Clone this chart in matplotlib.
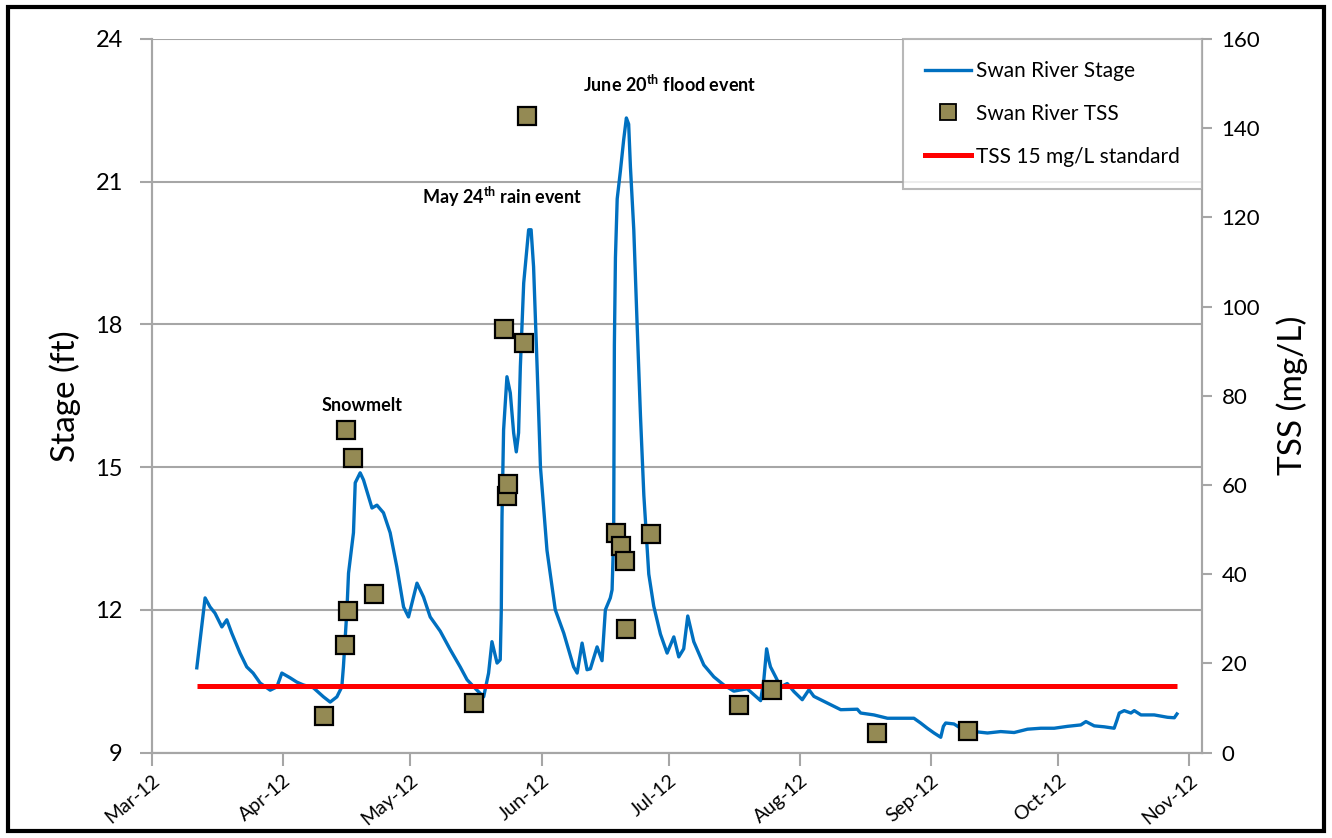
import matplotlib
matplotlib.use("Agg")
import matplotlib.pyplot as plt
import matplotlib.dates as mdates
from matplotlib.patches import Rectangle
from matplotlib.lines import Line2D
import pandas as pd

plt.rcParams['font.family'] = ['Lato', 'DejaVu Sans']
plt.rcParams['mathtext.fontset'] = 'custom'
plt.rcParams['mathtext.rm'] = 'Lato'
plt.rcParams['mathtext.bf'] = 'Lato:bold'

# Swan River stage (ft)
stage_dates = [
    "03-11 14:00", "03-13 13:00", "03-14 17:00", "03-15 21:00", "03-17 12:00", "03-18 16:00",
    "03-19 20:00", "03-21 19:00", "03-23 09:00", "03-24 21:00", "03-26 13:00", "03-28 22:00",
    "03-30 12:00", "03-31 16:00", "04-02 15:00", "04-04 05:00", "04-05 18:00", "04-08 03:00",
    "04-10 12:00", "04-12 02:00", "04-13 16:00", "04-14 20:00", "04-15 05:00", "04-16 01:00",
    "04-16 10:00", "04-17 14:00", "04-18 00:00", "04-19 04:00", "04-19 23:00", "04-21 23:00",
    "04-23 03:00", "04-24 16:00", "04-26 06:00", "04-27 20:00", "04-29 10:00", "04-30 14:00",
    "05-02 14:00", "05-04 03:00", "05-05 17:00", "05-08 02:00", "05-10 11:00", "05-12 19:00",
    "05-14 10:00", "05-15 04:00", "05-16 18:00", "05-18 08:00", "05-19 12:00", "05-20 07:00",
    "05-21 12:00", "05-22 06:00", "05-22 12:00", "05-22 16:00", "05-23 01:00", "05-23 20:00",
    "05-24 15:00", "05-25 10:00", "05-26 01:00", "05-26 14:00", "05-27 00:00", "05-27 19:00",
    "05-28 23:00", "05-29 13:00", "05-30 03:00", "05-30 23:00", "05-31 18:00", "06-02 07:00",
    "06-04 06:00", "06-06 06:00", "06-08 14:00", "06-09 10:00", "06-10 14:00", "06-11 18:00",
    "06-12 13:00", "06-14 03:00", "06-15 07:00", "06-16 02:00", "06-17 06:00", "06-17 16:00",
    "06-18 01:00", "06-18 05:00", "06-18 11:00", "06-18 21:00", "06-19 15:00", "06-20 10:00",
    "06-21 01:00", "06-21 14:00", "06-22 00:00", "06-22 19:00", "06-23 14:00", "06-24 09:00",
    "06-25 04:00", "06-26 08:00", "06-27 12:00", "06-29 02:00", "06-30 16:00", "07-02 06:00",
    "07-03 10:00", "07-04 14:00", "07-05 13:00", "07-06 23:00", "07-09 08:00", "07-11 17:00",
    "07-14 01:00", "07-16 10:00", "07-19 14:00", "07-22 18:00", "07-23 12:00", "07-24 04:00",
    "07-24 17:00", "07-25 02:00", "07-26 07:00", "07-27 11:00", "07-29 01:00", "07-30 15:00",
    "08-01 14:00", "08-03 04:00", "08-04 08:00", "08-07 12:00", "08-10 16:00", "08-14 14:00",
    "08-15 09:00", "08-18 12:00", "08-21 17:00", "08-24 20:00", "08-27 23:00", "08-29 13:00",
    "08-31 03:00", "09-01 17:00", "09-03 07:00", "09-03 22:00", "09-04 11:00", "09-06 10:00",
    "09-08 00:00", "09-11 04:00", "09-14 08:00", "09-17 11:00", "09-20 15:00", "09-23 19:00",
    "09-26 22:00", "09-30 02:00", "10-03 06:00", "10-06 09:00", "10-07 14:00", "10-09 13:00",
    "10-11 22:00", "10-14 06:00", "10-14 22:00", "10-15 11:00", "10-16 15:00", "10-18 05:00",
    "10-19 00:00", "10-20 14:00", "10-23 17:00", "10-26 21:00", "10-28 11:00", "10-29 02:00",
]
stage_ft = [
    10.78, 12.25, 12.06, 11.93, 11.64, 11.79,
    11.51, 11.09, 10.80, 10.67, 10.46, 10.31,
    10.38, 10.67, 10.57, 10.48, 10.42, 10.36,
    10.17, 10.06, 10.17, 10.38, 10.80, 12.00,
    12.77, 13.62, 14.67, 14.88, 14.73, 14.14,
    14.20, 14.04, 13.62, 12.90, 12.06, 11.85,
    12.56, 12.27, 11.85, 11.55, 11.16, 10.80,
    10.53, 10.46, 10.31, 10.17, 10.67, 11.33,
    10.88, 10.95, 12.00, 13.95, 15.78, 16.90,
    16.56, 15.72, 15.32, 15.72, 17.11, 18.87,
    19.99, 19.99, 19.21, 17.11, 15.00, 13.25,
    12.00, 11.51, 10.80, 10.67, 11.30, 10.74,
    10.76, 11.22, 10.93, 12.00, 12.25, 12.42,
    13.57, 17.57, 19.40, 20.64, 21.22, 21.89,
    22.34, 22.21, 21.31, 19.99, 17.99, 16.07,
    14.41, 12.75, 12.08, 11.49, 11.09, 11.43,
    11.01, 11.18, 11.87, 11.33, 10.84, 10.59,
    10.42, 10.29, 10.34, 10.09, 10.52, 11.18,
    10.93, 10.80, 10.59, 10.38, 10.45, 10.28,
    10.11, 10.32, 10.18, 10.04, 9.90, 9.91,
    9.83, 9.79, 9.72, 9.72, 9.72, 9.62,
    9.51, 9.41, 9.32, 9.55, 9.62, 9.60,
    9.51, 9.44, 9.41, 9.44, 9.42, 9.49,
    9.51, 9.51, 9.55, 9.58, 9.65, 9.56,
    9.54, 9.51, 9.68, 9.83, 9.88, 9.83,
    9.88, 9.79, 9.79, 9.74, 9.73, 9.81,
]

# Swan River TSS samples (mg/L)
tss_dates = [
    "04-10 17:00", "04-15 15:00", "04-16 08:00", "04-15 21:00", "04-17 12:00", "04-22 12:00",
    "05-16 03:00", "05-23 05:00", "05-23 22:00", "05-24 04:00", "05-27 23:00", "05-28 14:00",
    "06-18 17:00", "06-19 19:00", "06-20 20:00", "06-21 01:00", "06-26 23:00", "07-17 13:00",
    "07-25 08:00", "08-19 04:00", "09-09 18:00",
]
tss_mgl = [
    8.2, 24.1, 31.7, 72.3, 66.0, 35.5,
    11.1, 95.0, 57.5, 60.2, 91.9, 142.8,
    49.3, 46.3, 43.0, 27.6, 49.0, 10.7,
    14.0, 4.4, 4.8,
]
tss_standard = 15

stage_t = pd.to_datetime(["2012-" + d for d in stage_dates])
tss_t = pd.to_datetime(["2012-" + d for d in tss_dates])

grey = "#A6A6A6"
fig = plt.figure(figsize=(13.32, 8.38), dpi=100)
ax = fig.add_axes([152/1332, 1 - 752.5/838, 1050/1332, 713.5/838])
ax2 = ax.twinx()

ax.plot(stage_t, stage_ft, color="#0070C0", lw=2.4, label="Swan River Stage")
ax2.plot([stage_t[0], stage_t[-1]], [tss_standard, tss_standard],
         color="#FF0000", lw=3.6, solid_capstyle="butt", label="TSS 15 mg/L standard")
ax2.plot(tss_t, tss_mgl, ls="none", marker="s", ms=13, mfc="#948A54", mec="black",
         mew=1.6, label="Swan River TSS", zorder=5)

ax.set_xlim(pd.Timestamp("2012-03-01"), pd.Timestamp("2012-11-04"))
ax.set_ylim(9, 24)
ax.set_yticks([9, 12, 15, 18, 21, 24])
ax2.set_ylim(0, 160)
ax2.set_yticks(range(0, 161, 20))

ax.xaxis.set_major_locator(mdates.MonthLocator())
ax.xaxis.set_major_formatter(mdates.DateFormatter("%b-%y"))
for lbl in ax.get_xticklabels():
    lbl.set_rotation(40)
    lbl.set_ha("right")
    lbl.set_rotation_mode("anchor")

ax.grid(axis="y", color=grey, lw=1.5)
ax.set_axisbelow(True)
for a in (ax, ax2):
    for side in ("left", "right", "bottom"):
        a.spines[side].set_color(grey)
        a.spines[side].set_linewidth(1.5)
    a.spines["top"].set_visible(False)

ax.tick_params(axis="y", length=9, width=1.5, color=grey, labelsize=17, pad=12)
ax.tick_params(axis="x", length=9, width=1.5, color=grey, labelsize=14, pad=5)
ax2.tick_params(axis="y", length=7, width=1.5, color=grey, labelsize=16, pad=7)

ax.set_ylabel("Stage (ft)", fontsize=24, labelpad=10)
ax2.set_ylabel("TSS (mg/L)", fontsize=24, labelpad=12)

note = dict(transform=ax.transAxes, ha="center", va="center", fontsize=13, fontweight="bold")
ax.text(0.200, 0.486, "Snowmelt", **note)
ax.text(0.333, 0.779, r"May 24$^{\mathbf{th}}$ rain event", **note)
ax.text(0.493, 0.937, r"June 20$^{\mathbf{th}}$ flood event", **note)

handles = [
    Line2D([], [], color="#0070C0", lw=2.4),
    Line2D([], [], ls="none", marker="s", ms=11, mfc="#948A54", mec="black", mew=1.3),
    Line2D([], [], color="#FF0000", lw=3.6),
]
labels = ["Swan River Stage", "Swan River TSS", "TSS 15 mg/L standard"]
leg = ax2.legend(handles, labels, loc="upper right", bbox_to_anchor=(1.0, 1.0), fontsize=15,
                 frameon=True, fancybox=False, edgecolor=grey, handlelength=2.2,
                 labelspacing=1.1, borderpad=1.05, borderaxespad=0.0, handletextpad=0.25)
leg.get_frame().set_linewidth(1.5)

fig.patches.append(Rectangle((0.006, 0.008), 0.988, 0.984, transform=fig.transFigure,
                             fill=False, edgecolor="black", lw=3))

fig.savefig("out.png", dpi=100)
